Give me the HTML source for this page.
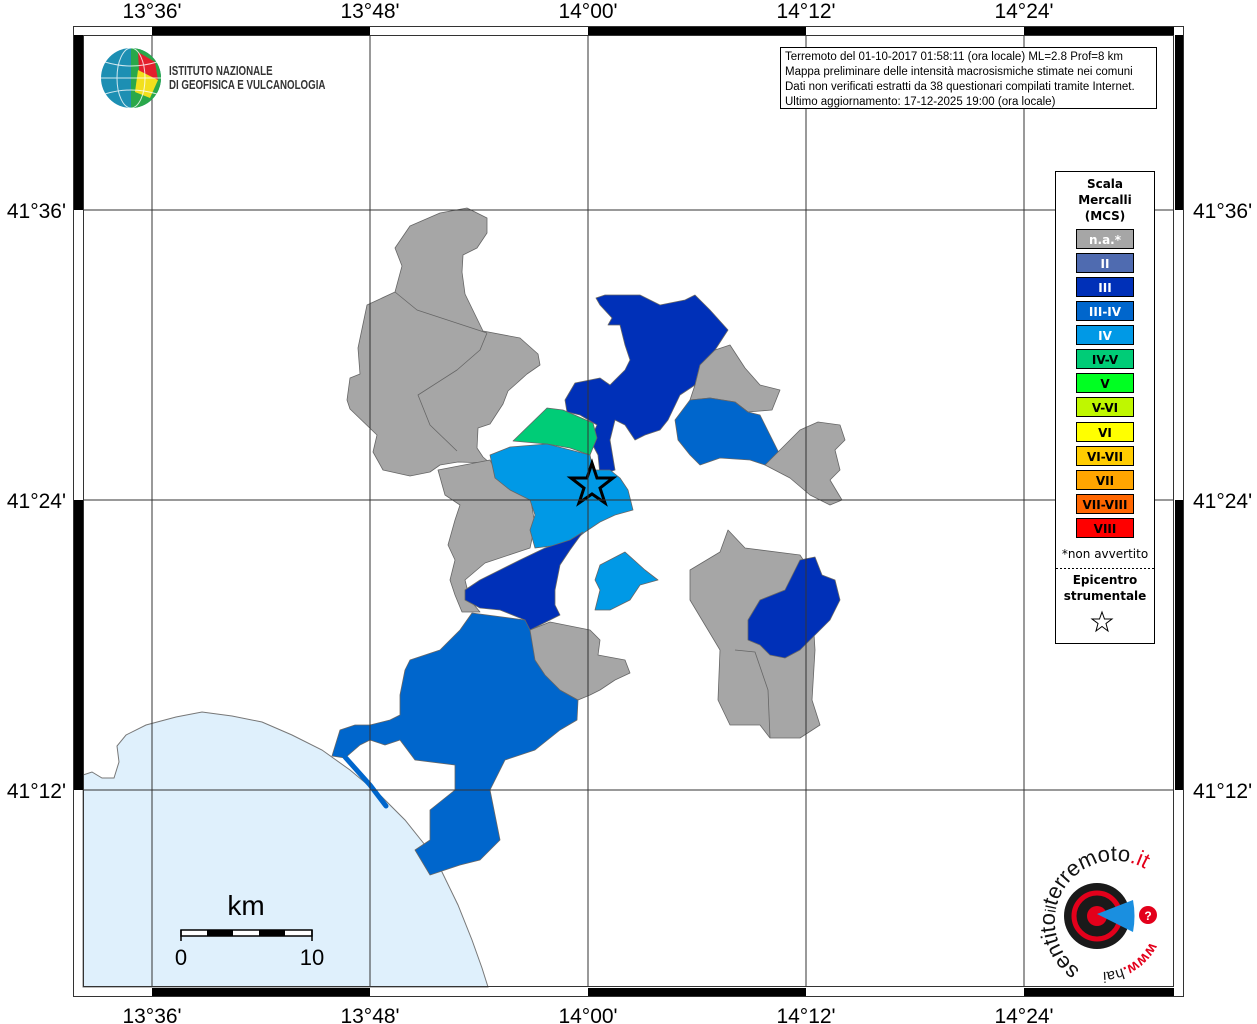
<!DOCTYPE html>
<html><head><meta charset="utf-8"><style>
html,body{margin:0;padding:0;background:#fff}
svg{display:block}
text{font-family:"Liberation Sans",sans-serif}
</style></head><body>
<svg width="1257" height="1024" viewBox="0 0 1257 1024" xmlns="http://www.w3.org/2000/svg">
<rect width="1257" height="1024" fill="#fff"/>
<!-- sea -->
<path d="M83,775 L92,772 L102,778 L114,778 L119,762 L117,746 L126,735 L146,725 L176,717 L202,712 L232,716 L262,722 L292,735 L322,750 L350,770 L380,795 L405,820 L425,845 L442,872 L458,905 L472,940 L482,968 L488,987 L83,987 Z" fill="#dff0fc" stroke="#777" stroke-width="1"/>
<g stroke="#666" stroke-width="0.8" stroke-linejoin="round">
<path fill="#a6a6a6" d="M440,213 L467,208 L487,218 L487,233 L477,248 L463,255 L462,272 L465,294 L483,331 L520,338 L538,354 L540,365 L527,374 L517,383 L508,391 L503,404 L490,424 L478,428 L477,448 L483,457 L490,463 L458,462 L440,465 L430,472 L410,476 L383,470 L373,452 L377,435 L350,409 L347,400 L350,378 L360,374 L358,348 L367,305 L395,292 L402,266 L395,248 L410,226 Z"/>
<path fill="none" d="M395,292 L417,310 L487,333 M487,333 L480,350 L457,370 L418,395 L430,425 L457,451"/>
<path fill="#a6a6a6" d="M438,470 L490,460 L500,480 L530,495 L535,525 L530,548 L485,563 L465,580 L470,600 L480,612 L462,612 L455,595 L450,580 L455,560 L448,545 L455,520 L460,505 L445,495 Z"/>
<path fill="#0030b8" d="M567,412 L565,400 L575,383 L600,378 L610,385 L625,370 L630,360 L625,345 L620,325 L608,325 L612,318 L600,305 L596,298 L605,295 L640,295 L660,305 L685,300 L695,295 L710,310 L728,330 L715,350 L700,365 L695,385 L680,395 L668,420 L660,430 L645,435 L635,440 L625,425 L615,420 L610,440 L615,470 L600,475 L598,455 L590,440 L597,425 L580,415 Z"/>
<path fill="#00cc77" d="M513,441 L547,408 L563,410 L593,423 L597,438 L590,455 L570,448 L547,444 Z"/>
<path fill="#0099e6" d="M490,455 L510,447 L547,444 L590,455 L593,470 L610,470 L620,478 L628,490 L633,510 L615,515 L600,522 L585,532 L575,540 L560,545 L535,548 L530,530 L535,515 L530,500 L510,490 L495,478 Z"/>
<path fill="#0030b8" d="M465,590 L480,580 L500,570 L520,560 L545,548 L570,540 L583,532 L570,550 L560,565 L555,590 L555,605 L560,615 L530,630 L525,620 L500,610 L480,608 L465,600 Z"/>
<path fill="#0066cc" d="M472,613 L525,620 L530,630 L540,660 L560,690 L578,700 L577,720 L560,730 L535,750 L505,760 L490,790 L500,840 L480,860 L460,865 L430,875 L415,850 L430,840 L430,810 L455,790 L455,765 L415,760 L400,740 L385,745 L370,740 L360,745 L345,758 L332,756 L340,730 L355,725 L370,725 L390,720 L400,715 L400,695 L405,670 L410,660 L440,650 L460,630 Z"/>
<path fill="none" stroke="#0066cc" stroke-width="5" stroke-linecap="round" d="M345,757 L370,785 L386,806"/>
<path fill="#a6a6a6" d="M530,630 L550,622 L590,630 L600,640 L598,655 L625,660 L630,673 L615,680 L600,690 L590,695 L578,700 L560,690 L545,675 L535,660 Z"/>
<path fill="#0099e6" d="M600,565 L625,552 L645,570 L658,580 L640,585 L630,600 L610,610 L595,610 L600,590 L595,580 Z"/>
<path fill="#a6a6a6" d="M700,365 L715,350 L730,345 L745,368 L760,385 L780,390 L772,410 L748,412 L735,402 L710,398 L690,400 L695,385 Z"/>
<path fill="#0066cc" d="M675,420 L690,400 L710,398 L735,402 L748,412 L760,415 L770,435 L780,455 L765,465 L750,460 L720,458 L700,465 L690,455 L678,440 Z"/>
<path fill="#a6a6a6" d="M765,465 L780,450 L800,430 L818,422 L840,425 L845,440 L835,450 L840,470 L830,480 L842,500 L830,505 L810,495 L790,478 Z"/>
<path fill="#a6a6a6" d="M690,570 L720,552 L728,530 L745,548 L800,555 L810,570 L815,650 L812,700 L820,725 L800,738 L770,738 L760,725 L730,725 L718,700 L720,650 L705,625 L690,600 Z"/>
<path fill="none" d="M735,650 L755,652 L768,690 L770,738"/>
<path fill="#0030b8" d="M748,620 L760,600 L785,590 L800,560 L815,557 L822,575 L835,580 L840,600 L830,620 L815,635 L800,650 L785,658 L770,655 L760,645 L748,640 Z"/>
</g>
<polygon points="592,463 597,478 613,478 600,488 605,503 592,494 579,503 584,488 571,478 587,478" fill="none" stroke="#000" stroke-width="3" stroke-linejoin="miter"/>
<g stroke="#333" stroke-width="1">
<line x1="152" y1="35" x2="152" y2="987"/><line x1="370" y1="35" x2="370" y2="987"/><line x1="588" y1="35" x2="588" y2="987"/><line x1="806" y1="35" x2="806" y2="987"/><line x1="1024" y1="35" x2="1024" y2="987"/>
<line x1="83" y1="210" x2="1174" y2="210"/><line x1="83" y1="500" x2="1174" y2="500"/><line x1="83" y1="790" x2="1174" y2="790"/>
</g>
<rect x="73.5" y="26.5" width="1110" height="970" fill="none" stroke="#333"/>
<rect x="83.5" y="35.5" width="1090" height="951" fill="none" stroke="#333"/>
<g fill="#000">
<rect x="152" y="27" width="218" height="8"/><rect x="588" y="27" width="218" height="8"/><rect x="1024" y="27" width="150" height="8"/>
<rect x="152" y="988" width="218" height="8"/><rect x="588" y="988" width="218" height="8"/><rect x="1024" y="988" width="150" height="8"/>
<rect x="74" y="35" width="9" height="175"/><rect x="74" y="500" width="9" height="290"/>
<rect x="1175" y="35" width="8" height="175"/><rect x="1175" y="500" width="8" height="290"/>
</g>
<g font-size="21" fill="#000" text-anchor="middle">
<text x="152" y="18">13°36'</text><text x="370" y="18">13°48'</text><text x="588" y="18">14°00'</text><text x="806" y="18">14°12'</text><text x="1024" y="18">14°24'</text>
<text x="152" y="1023">13°36'</text><text x="370" y="1023">13°48'</text><text x="588" y="1023">14°00'</text><text x="806" y="1023">14°12'</text><text x="1024" y="1023">14°24'</text>
</g>
<g font-size="21" fill="#000">
<text x="66" y="218" text-anchor="end">41°36'</text><text x="66" y="508" text-anchor="end">41°24'</text><text x="66" y="798" text-anchor="end">41°12'</text>
<text x="1193" y="218">41°36'</text><text x="1193" y="508">41°24'</text><text x="1193" y="798">41°12'</text>
</g>
<!-- INGV logo -->
<circle cx="131" cy="78" r="30" fill="#1d8fb3"/>
<path d="M131,48 A30,30 0 0 1 161,78 A30,30 0 0 1 131,108 Z" fill="#2aa84a"/>
<path d="M138,52 L155,62 L158,80 L140,88 Z" fill="#e41f2d"/>
<path d="M138,70 L158,80 L150,98 L135,92 Z" fill="#f2e01d"/>
<g stroke="#fff" stroke-width="1" fill="none" opacity="0.8"><ellipse cx="131" cy="78" rx="14" ry="30"/><line x1="101" y1="78" x2="161" y2="78"/><path d="M105,62 Q131,70 157,62 M105,94 Q131,86 157,94"/></g>
<g transform="translate(169,0) scale(0.78,1)" font-size="12.5" font-weight="bold" fill="#333">
<text x="0" y="75">ISTITUTO NAZIONALE</text>
<text x="0" y="89">DI GEOFISICA E VULCANOLOGIA</text>
</g>
<rect x="780.5" y="47.5" width="376" height="61" fill="#fff" stroke="#000"/>
<g font-size="11.5" fill="#000">
<text x="785" y="60">Terremoto del 01-10-2017 01:58:11 (ora locale) ML=2.8 Prof=8 km</text>
<text x="785" y="75">Mappa preliminare delle intensità macrosismiche stimate nei comuni</text>
<text x="785" y="90">Dati non verificati estratti da 38 questionari compilati tramite Internet.</text>
<text x="785" y="105">Ultimo aggiornamento: 17-12-2025 19:00 (ora locale)</text>
</g>
<rect x="1055.5" y="171.5" width="99" height="472" fill="#fff" stroke="#000"/>
<g font-family="'DejaVu Sans',sans-serif" font-weight="bold" font-size="12" text-anchor="middle" style="font-family:'DejaVu Sans',sans-serif">
<text x="1105" y="188" style="font-family:'DejaVu Sans',sans-serif">Scala</text><text x="1105" y="204" style="font-family:'DejaVu Sans',sans-serif">Mercalli</text><text x="1105" y="220" style="font-family:'DejaVu Sans',sans-serif">(MCS)</text>
</g>
<g stroke="#000" stroke-width="1">
<rect x="1076.5" y="229.5" width="57" height="19" fill="#a6a6a6"/>
<rect x="1076.5" y="253.5" width="57" height="19" fill="#4f6bb0"/>
<rect x="1076.5" y="277.5" width="57" height="19" fill="#0030b8"/>
<rect x="1076.5" y="301.5" width="57" height="19" fill="#0066cc"/>
<rect x="1076.5" y="325.5" width="57" height="19" fill="#0099e6"/>
<rect x="1076.5" y="349.5" width="57" height="19" fill="#00cc77"/>
<rect x="1076.5" y="373.5" width="57" height="19" fill="#00ff22"/>
<rect x="1076.5" y="397.5" width="57" height="19" fill="#bff700"/>
<rect x="1076.5" y="422.5" width="57" height="19" fill="#ffff00"/>
<rect x="1076.5" y="446.5" width="57" height="19" fill="#ffcc00"/>
<rect x="1076.5" y="470.5" width="57" height="19" fill="#ffa500"/>
<rect x="1076.5" y="494.5" width="57" height="19" fill="#ff6600"/>
<rect x="1076.5" y="518.5" width="57" height="19" fill="#ff0000"/>
</g>
<g font-weight="bold" font-size="12" text-anchor="middle">
<g fill="#fff"><text x="1105" y="244" style="font-family:'DejaVu Sans',sans-serif">n.a.*</text><text x="1105" y="268" style="font-family:'DejaVu Sans',sans-serif">II</text><text x="1105" y="292" style="font-family:'DejaVu Sans',sans-serif">III</text><text x="1105" y="316" style="font-family:'DejaVu Sans',sans-serif">III-IV</text><text x="1105" y="340" style="font-family:'DejaVu Sans',sans-serif">IV</text></g>
<g fill="#000"><text x="1105" y="364" style="font-family:'DejaVu Sans',sans-serif">IV-V</text><text x="1105" y="388" style="font-family:'DejaVu Sans',sans-serif">V</text><text x="1105" y="412" style="font-family:'DejaVu Sans',sans-serif">V-VI</text><text x="1105" y="437" style="font-family:'DejaVu Sans',sans-serif">VI</text><text x="1105" y="461" style="font-family:'DejaVu Sans',sans-serif">VI-VII</text><text x="1105" y="485" style="font-family:'DejaVu Sans',sans-serif">VII</text><text x="1105" y="509" style="font-family:'DejaVu Sans',sans-serif">VII-VIII</text><text x="1105" y="533" style="font-family:'DejaVu Sans',sans-serif">VIII</text></g>
</g>
<text x="1105" y="558" font-size="12" text-anchor="middle" style="font-family:'DejaVu Sans',sans-serif">*non avvertito</text>
<line x1="1056" y1="568.5" x2="1154" y2="568.5" stroke="#000" stroke-dasharray="2,2"/>
<g font-weight="bold" font-size="12" text-anchor="middle"><text x="1105" y="584" style="font-family:'DejaVu Sans',sans-serif">Epicentro</text><text x="1105" y="600" style="font-family:'DejaVu Sans',sans-serif">strumentale</text></g>
<polygon points="1102,612 1104.5,619 1112,619 1106,623.5 1108,631 1102,626.5 1096,631 1098,623.5 1092,619 1099.5,619" fill="none" stroke="#000" stroke-width="1"/>
<text x="246" y="915" font-size="28" text-anchor="middle">km</text>
<rect x="181" y="930" width="131" height="6" fill="#fff" stroke="#000" stroke-width="1.5"/>
<rect x="207" y="930" width="26" height="6" fill="#000"/><rect x="259" y="930" width="26" height="6" fill="#000"/>
<line x1="181" y1="930" x2="181" y2="941" stroke="#000" stroke-width="1.5"/><line x1="312" y1="930" x2="312" y2="941" stroke="#000" stroke-width="1.5"/>
<text x="181" y="965" font-size="22" text-anchor="middle">0</text>
<text x="312" y="965" font-size="22" text-anchor="middle">10</text>
<circle cx="1097" cy="916" r="33" fill="#1a1a1a"/>
<circle cx="1097" cy="916" r="23" fill="none" stroke="#e3001b" stroke-width="5"/>
<circle cx="1097" cy="916" r="10" fill="#e3001b"/>
<path d="M1097,914 L1133,900 Q1136,916 1133,932 Z" fill="#1a8fe0"/>
<circle cx="1148" cy="915" r="9" fill="#e3001b"/><text x="1148" y="920" font-size="12" fill="#fff" text-anchor="middle" font-weight="bold">?</text>
<defs><path id="arc" d="M1080,970 A50,50 0 1 1 1150,872"/><path id="arc2" d="M1150,942 A54,54 0 0 1 1100,972"/></defs>
<text font-size="22" fill="#111"><textPath href="#arc">sentito<tspan font-size="15">il</tspan>terremoto<tspan fill="#e3001b">.it</tspan></textPath></text>
<text font-size="15" fill="#e3001b" font-weight="bold"><textPath href="#arc2">www.<tspan fill="#111" font-weight="normal">hai</tspan></textPath></text>
</svg>
</body></html>
